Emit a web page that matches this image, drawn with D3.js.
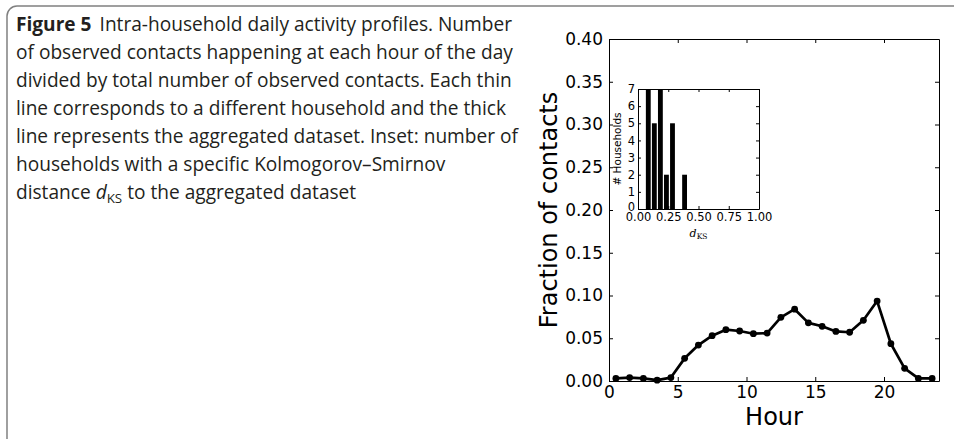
<!DOCTYPE html>
<html>
<head>
<meta charset="utf-8">
<script src="https://cdn.jsdelivr.net/npm/d3@7"></script>
<style>
  body { margin: 0; background: #fff; }
  svg { display: block; }
</style>
</head>
<body>
<div id="chart"></div>
<script>
// hourly profile of the aggregated dataset (hour midpoints)
const hours = [0.5, 1.5, 2.5, 3.5, 4.5, 5.5, 6.5, 7.5, 8.5, 9.5, 10.5, 11.5,
               12.5, 13.5, 14.5, 15.5, 16.5, 17.5, 18.5, 19.5, 20.5, 21.5, 22.5, 23.5];
const fraction = [0.003, 0.004, 0.003, 0.001, 0.004, 0.0265, 0.042, 0.053, 0.060, 0.0585, 0.0553, 0.056,
                  0.0745, 0.084, 0.068, 0.064, 0.058, 0.057, 0.071, 0.0935, 0.0436, 0.0148, 0.003, 0.003];
const xTicks = [0, 5, 10, 15, 20];
const yTicks = [0, 0.05, 0.10, 0.15, 0.20, 0.25, 0.30, 0.35, 0.40];

// inset histogram of d_KS
const binCenters = [0.085, 0.135, 0.185, 0.235, 0.285, 0.385];
const binCounts = [7, 5, 7, 2, 5, 2];
const insetXTicks = [0, 0.25, 0.5, 0.75, 1.0];
const insetYTicks = [0, 1, 2, 3, 4, 5, 6, 7];

const captionLines = [
    "Intra-household daily activity profiles. Number",
    "of observed contacts happening at each hour of the day",
    "divided by total number of observed contacts. Each thin",
    "line corresponds to a different household and the thick",
    "line represents the aggregated dataset. Inset: number of",
    "households with a specific Kolmogorov\u2013Smirnov",
    "distance"
];

const W = 954, H = 439;
const svg = d3.select("#chart").append("svg")
    .attr("width", W)
    .attr("height", H);

// outer rounded frame
svg.append("rect")
    .attr("x", 7).attr("y", 6)
    .attr("width", 980).attr("height", 460)
    .attr("rx", 10)
    .attr("fill", "none")
    .attr("stroke", "#808080")
    .attr("stroke-width", 1.5);

// caption
const capFont = "'Open Sans', 'Noto Sans', sans-serif";
const cap = svg.append("g").attr("font-family", capFont).attr("fill", "#231f20");
let capSize = 16;
const probe = cap.append("text").attr("font-size", capSize).text(captionLines[1]);
capSize = capSize * 497 / probe.node().getComputedTextLength();
probe.remove();
const lineGap = 28, firstBase = 31;
captionLines.forEach(function(line, i) {
    let t = cap.append("text")
        .attr("x", 16)
        .attr("y", firstBase + i * lineGap)
        .attr("font-size", capSize);
    if (i === 0) {
        t.append("tspan").attr("font-weight", "bold").text("Figure 5");
        t.append("tspan").attr("dx", 8).text(line);
    } else if (i === captionLines.length - 1) {
        t.append("tspan").text(line + " ");
        t.append("tspan").attr("font-style", "italic").text("d");
        t.append("tspan").attr("font-size", capSize * 0.7).attr("dy", 4).text("KS");
        t.append("tspan").attr("dy", -4).text(" to the aggregated dataset");
    } else {
        t.text(line);
    }
});

// main chart
const x = d3.scaleLinear().domain([0, 24]).range([609, 939]);
const y = d3.scaleLinear().domain([0, 0.4]).range([381, 39]);
const axFont = "'DejaVu Sans', sans-serif";

function styleAxis(g, size) {
    g.attr("font-family", axFont).attr("font-size", size);
    g.selectAll("path, line").attr("stroke", "#000").attr("stroke-width", 1);
    g.selectAll("text").attr("fill", "#000");
}

svg.append("g")
    .attr("transform", `translate(0,${y(0)})`)
    .call(d3.axisBottom(x).tickValues(xTicks).tickSizeInner(-4).tickSizeOuter(0).tickPadding(5))
    .call(styleAxis, 17);
svg.append("g")
    .attr("transform", `translate(0,${y(0.4)})`)
    .call(d3.axisTop(x).tickValues(xTicks).tickSizeInner(-4).tickSizeOuter(0).tickFormat(""))
    .call(styleAxis, 17);
svg.append("g")
    .attr("transform", `translate(${x(0)},0)`)
    .call(d3.axisLeft(y).tickValues(yTicks).tickFormat(d3.format(".2f")).tickSizeInner(-4).tickSizeOuter(0).tickPadding(6))
    .call(styleAxis, 17);
svg.append("g")
    .attr("transform", `translate(${x(24)},0)`)
    .call(d3.axisRight(y).tickValues(yTicks).tickSizeInner(-4).tickSizeOuter(0).tickFormat(""))
    .call(styleAxis, 17);

svg.append("text")
    .attr("x", (x(0) + x(24)) / 2)
    .attr("y", 425)
    .attr("text-anchor", "middle")
    .attr("font-family", axFont)
    .attr("font-size", 24)
    .text("Hour");

svg.append("text")
    .attr("transform", `translate(557,${(y(0) + y(0.4)) / 2}) rotate(-90)`)
    .attr("text-anchor", "middle")
    .attr("font-family", axFont)
    .attr("font-size", 24)
    .text("Fraction of contacts");

const pts = hours.map((h, i) => [h, fraction[i]]);
svg.append("path")
    .datum(pts)
    .attr("fill", "none")
    .attr("stroke", "#000")
    .attr("stroke-width", 2.7)
    .attr("stroke-linejoin", "round")
    .attr("d", d3.line().x(d => x(d[0])).y(d => y(d[1])));
svg.selectAll(".dot")
    .data(pts)
    .enter()
    .append("circle")
    .attr("class", "dot")
    .attr("cx", d => x(d[0]))
    .attr("cy", d => y(d[1]))
    .attr("r", 3.4)
    .attr("fill", "#000");

// inset
const xi = d3.scaleLinear().domain([0, 1]).range([638, 759]);
const yi = d3.scaleLinear().domain([0, 7]).range([209, 89]);

svg.append("rect")
    .attr("x", xi(0)).attr("y", yi(7))
    .attr("width", xi(1) - xi(0)).attr("height", yi(0) - yi(7))
    .attr("fill", "#fff");

svg.selectAll(".bar")
    .data(binCenters)
    .enter()
    .append("rect")
    .attr("class", "bar")
    .attr("x", d => xi(d - 0.02))
    .attr("width", xi(0.04) - xi(0))
    .attr("y", (d, i) => yi(binCounts[i]))
    .attr("height", (d, i) => yi(0) - yi(binCounts[i]))
    .attr("fill", "#000");

svg.append("g")
    .attr("transform", `translate(0,${yi(0)})`)
    .call(d3.axisBottom(xi).tickValues(insetXTicks).tickFormat(d3.format(".2f")).tickSizeInner(-3).tickSizeOuter(0).tickPadding(4))
    .call(styleAxis, 11.5);
svg.append("g")
    .attr("transform", `translate(0,${yi(7)})`)
    .call(d3.axisTop(xi).tickValues(insetXTicks).tickSizeInner(-3).tickSizeOuter(0).tickFormat(""))
    .call(styleAxis, 11.5);
const insetLeft = svg.append("g")
    .attr("transform", `translate(${xi(0)},0)`)
    .call(d3.axisLeft(yi).tickValues(insetYTicks).tickFormat(d3.format("d")).tickSizeInner(-3).tickSizeOuter(0).tickPadding(3))
    .call(styleAxis, 11.5);
svg.append("g")
    .attr("transform", `translate(${xi(1)},0)`)
    .call(d3.axisRight(yi).tickValues(insetYTicks).tickSizeInner(-3).tickSizeOuter(0).tickFormat(""))
    .call(styleAxis, 11.5);

// the inset "0" sits right on top of "0.00", lift it a little
insetLeft.selectAll(".tick text")
    .filter(d => d === 0)
    .attr("dy", "0.1em");

svg.append("text")
    .attr("transform", `translate(621,${(yi(0) + yi(7)) / 2}) rotate(-90)`)
    .attr("text-anchor", "middle")
    .attr("font-family", axFont)
    .attr("font-size", 10.5)
    .text("# Households");

const dks = svg.append("text")
    .attr("x", (xi(0) + xi(1)) / 2)
    .attr("y", 237)
    .attr("text-anchor", "middle")
    .attr("font-family", "'DejaVu Serif', serif")
    .attr("font-size", 11);
dks.append("tspan").attr("font-style", "italic").text("d");
dks.append("tspan").attr("font-size", 7.5).attr("dy", 2).text("KS");
</script>
</body>
</html>
